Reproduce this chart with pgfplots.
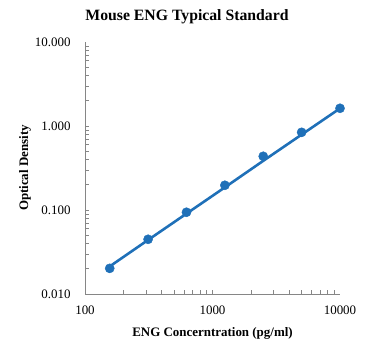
\documentclass[border=0pt]{standalone}
\usepackage{fontspec}
\setmainfont{Liberation Serif}
\usepackage{pgfplots}
\pgfplotsset{compat=1.18}
\definecolor{ser}{RGB}{31,112,184}
\definecolor{axg}{RGB}{134,134,134}
\begin{document}
\begin{tikzpicture}
\useasboundingbox (0,0) rectangle (372bp,352bp);
\begin{axis}[
  at={(85bp,58bp)}, anchor=south west,
  scale only axis, width=255bp, height=252bp,
  xmode=log, ymode=log,
  xmin=100, xmax=10000, ymin=0.01, ymax=10,
  axis x line*=bottom, axis y line*=left,
  axis line style={axg, line width=0.8pt},
  every tick/.style={axg, line width=0.6pt},
  major tick length=0pt, minor tick length=4bp,
  tick align=inside,
  xtick={100,1000,10000}, xticklabels={100,1000,10000},
  ytick={0.01,0.1,1,10}, yticklabels={0.010,0.100,1.000,10.000},
  tick label style={font=\fontsize{13}{14}\selectfont, black},
  xticklabel style={yshift=-8bp},
  yticklabel style={xshift=-11bp},
  title={\textbf{Mouse ENG Typical Standard}},
  title style={font=\fontsize{15.8}{17}\selectfont, at={(0.40,1)}, yshift=9bp},
  xlabel={\textbf{ENG Concerntration (pg/ml)}},
  ylabel={\textbf{Optical Density}},
  label style={font=\fontsize{13}{14}\selectfont},
  xlabel style={yshift=-6bp},
  ylabel style={yshift=-3bp},
  clip=false,
]
\addplot[ser, line width=2.6pt, no marks] coordinates {
 (156.25,0.0213) (312.5,0.0440) (625,0.0905) (1250,0.186) (2500,0.385) (5000,0.79) (10000,1.62)
};
\addplot[only marks, mark=*, mark size=4.6bp, ser, mark options={draw=ser, fill=ser}] coordinates {
 (156.25,0.0202) (312.5,0.0448) (625,0.094) (1250,0.197) (2500,0.436) (5000,0.841) (10000,1.625)
};
\end{axis}
\end{tikzpicture}
\end{document}
